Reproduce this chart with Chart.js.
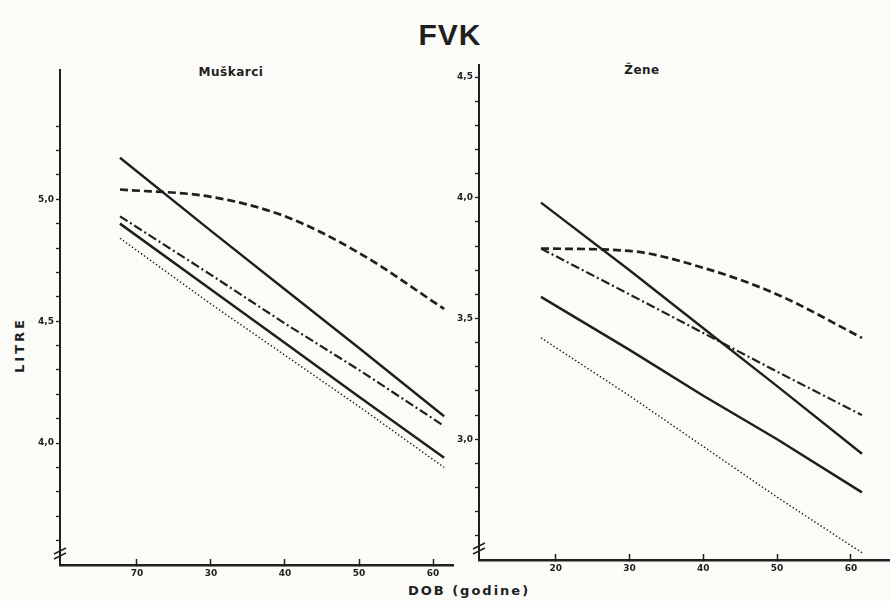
<!DOCTYPE html>
<html>
<head>
<meta charset="utf-8">
<script src="https://cdn.jsdelivr.net/npm/chart.js@4.4.1/dist/chart.umd.min.js"></script>
<style>
  body { margin: 0; background: #fbfbf8; width: 890px; height: 601px; position: relative; overflow: hidden;
         font-family: "DejaVu Sans", sans-serif; color: #1f1f1f; }
  .txt { position: absolute; font-weight: bold; white-space: nowrap; transform: translate(-50%, -50%); }
  canvas { position: absolute; top: 0; }
</style>
</head>
<body>
<div class="txt" style="left:450px;top:35px;font-family:'Liberation Sans';font-size:30px;letter-spacing:1px;">FVK</div>
<div class="txt" style="left:231px;top:72px;font-size:12px;letter-spacing:0.5px;">Muškarci</div>
<div class="txt" style="left:642px;top:70px;font-size:12px;letter-spacing:0.5px;">Žene</div>
<div class="txt" style="left:19px;top:345px;font-size:13px;letter-spacing:3px;transform:translate(-50%,-50%) rotate(-90deg);">LITRE</div>
<div class="txt" style="left:469px;top:590px;font-size:13px;letter-spacing:2px;">DOB (godine)</div>

<canvas id="chartM" width="455" height="601" style="left:0"></canvas>
<canvas id="chartZ" width="438" height="601" style="left:452px"></canvas>

<script>
const ink = '#1f1f1f';

// x axis (age) ticks, same for both panels
const xTicks = [20, 30, 40, 50, 60];
const xLabelsM = ['70', '30', '40', '50', '60'];
const xLabelsZ = ['20', '30', '40', '50', '60'];

// Muškarci
const agesM = [17.7, 30, 40, 50, 61.5];
const solidAM = [5.17, 4.87, 4.63, 4.39, 4.11];
const dashedM = [5.04, 5.01, 4.93, 4.78, 4.55];
const dashDotM = [4.93, 4.69, 4.49, 4.30, 4.07];
const solidBM = [4.90, 4.63, 4.41, 4.19, 3.94];
const dottedM = [4.84, 4.57, 4.36, 4.15, 3.90];
const yMajorM = [4.0, 4.5, 5.0];
const yLabelsM = ['4,0', '4,5', '5,0'];

// Žene
const agesZ = [18, 30, 40, 50, 61.5];
const solidAZ = [3.98, 3.70, 3.46, 3.22, 2.94];
const dashedZ = [3.79, 3.78, 3.71, 3.60, 3.42];
const dashDotZ = [3.79, 3.60, 3.44, 3.28, 3.10];
const solidBZ = [3.59, 3.37, 3.18, 3.00, 2.78];
const dottedZ = [3.42, 3.18, 2.97, 2.76, 2.53];
const yMajorZ = [3.0, 3.5, 4.0, 4.5];
const yLabelsZ = ['3,0', '3,5', '4,0', '4,5'];

const tickFont = {family: 'DejaVu Sans', size: 9, weight: 'bold'};

const lineStyles = [
  {borderWidth: 2.4, borderDash: []},
  {borderWidth: 2.7, borderDash: [8, 4], cubicInterpolationMode: 'monotone'},
  {borderWidth: 2.2, borderDash: [9, 3, 2, 3]},
  {borderWidth: 2.5, borderDash: []},
  {borderWidth: 1.4, borderDash: [1.5, 2.2]}
];

// the // break sign near the bottom of the y axis
const breakMark = {
  id: 'breakMark',
  afterDraw(chart) {
    const {ctx, chartArea} = chart;
    const x = chartArea.left, y = chartArea.bottom - 12;
    ctx.save();
    ctx.strokeStyle = ink;
    ctx.lineWidth = 1.5;
    for (const d of [-2, 3]) {
      ctx.beginPath();
      ctx.moveTo(x - 6, y + d + 3);
      ctx.lineTo(x + 6, y + d - 3);
      ctx.stroke();
    }
    ctx.restore();
  }
};

function makePanel(id, ages, series, p) {
  new Chart(document.getElementById(id), {
    type: 'line',
    data: {
      datasets: series.map((vals, i) => ({
        data: ages.map((a, j) => ({x: a, y: vals[j]})),
        borderColor: ink,
        pointRadius: 0,
        fill: false,
        ...lineStyles[i]
      }))
    },
    options: {
      responsive: false,
      animation: false,
      layout: {padding: p.padding},
      plugins: {legend: {display: false}, tooltip: {enabled: false}},
      scales: {
        x: {
          type: 'linear',
          min: 9.6,
          max: p.xMax,
          afterBuildTicks: s => { s.ticks = xTicks.map(v => ({value: v})); },
          afterFit: s => { s.height = p.xHeight; },
          ticks: {
            callback: v => p.xLabels[xTicks.indexOf(v)],
            autoSkip: false, maxRotation: 0, padding: 9, color: ink, font: tickFont
          },
          grid: {drawOnChartArea: false, tickLength: -6, tickColor: ink, tickWidth: 1.5},
          border: {color: ink, width: 2.5}
        },
        y: {
          min: p.yMin,
          max: p.yMax,
          afterBuildTicks: s => {
            s.ticks = s.ticks.filter(t => t.value > p.yLo - 1e-6 && t.value < p.yHi + 1e-6);
          },
          afterFit: s => { s.width = p.yWidth; },
          ticks: {
            stepSize: 0.1,
            autoSkip: false,
            padding: 2,
            color: ink,
            font: tickFont,
            callback: v => {
              const i = p.yMajor.findIndex(m => Math.abs(m - v) < 1e-6);
              return i >= 0 ? p.yLabels[i] : '';
            }
          },
          grid: {drawOnChartArea: false, tickLength: 4, tickColor: ink, tickWidth: 1.3},
          border: {color: ink, width: 2}
        }
      }
    },
    plugins: [breakMark]
  });
}

makePanel('chartM', agesM, [solidAM, dashedM, dashDotM, solidBM, dottedM], {
  padding: {left: 0, right: 2, top: 70, bottom: 0},
  xMax: 62.7, xHeight: 36, xLabels: xLabelsM,
  yMin: 3.5, yMax: 5.53, yLo: 3.6, yHi: 5.3, yWidth: 60,
  yMajor: yMajorM, yLabels: yLabelsM
});

makePanel('chartZ', agesZ, [solidAZ, dashedZ, dashDotZ, solidBZ, dottedZ], {
  padding: {left: 0, right: 0, top: 65, bottom: 0},
  xMax: 65.3, xHeight: 41, xLabels: xLabelsZ,
  yMin: 2.5, yMax: 4.55, yLo: 2.6, yHi: 4.5, yWidth: 27,
  yMajor: yMajorZ, yLabels: yLabelsZ
});
</script>
</body>
</html>
